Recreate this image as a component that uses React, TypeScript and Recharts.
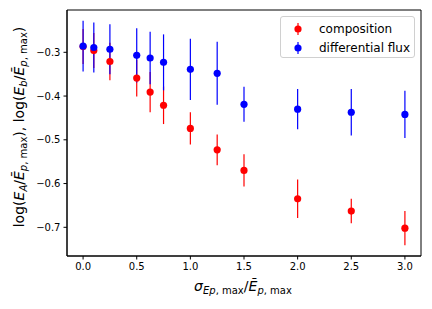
import React from "react";
import {
  ScatterChart,
  Scatter,
  XAxis,
  YAxis,
  ErrorBar,
  ReferenceArea,
} from "recharts";

const xValues = [0, 0.1, 0.25, 0.5, 0.625, 0.75, 1.0, 1.25, 1.5, 2.0, 2.5, 3.0];
const composition = [-0.287, -0.296, -0.321, -0.359, -0.391, -0.421, -0.474, -0.523, -0.57, -0.635, -0.663, -0.702];
const compositionErr = [0.04, 0.04, 0.043, 0.042, 0.046, 0.043, 0.037, 0.035, 0.037, 0.044, 0.028, 0.039];
const flux = [-0.286, -0.289, -0.293, -0.307, -0.313, -0.323, -0.339, -0.348, -0.419, -0.43, -0.437, -0.442];
const fluxErr = [0.058, 0.057, 0.057, 0.062, 0.06, 0.064, 0.07, 0.072, 0.04, 0.046, 0.053, 0.054];
const xTicks = [0, 0.5, 1.0, 1.5, 2.0, 2.5, 3.0];
const yTicks = [-0.7, -0.6, -0.5, -0.4, -0.3];
const seriesNames = ["composition", "differential flux"];

const X_DOMAIN: [number, number] = [-0.15, 3.15];
const Y_DOMAIN: [number, number] = [-0.7656, -0.2033];

const compData = xValues.map((x, i) => ({ x, y: composition[i], err: compositionErr[i] }));
const fluxData = xValues.map((x, i) => ({ x, y: flux[i], err: fluxErr[i] }));

const FONT = "'DejaVu Sans', sans-serif";

const dot = (color: string) => (props: any) => (
  <circle cx={props.cx} cy={props.cy} r={3.6} fill={color} />
);

const fmtY = (v: number) => (v < 0 ? "\u2212" : "") + Math.abs(v).toFixed(1);
const fmtX = (v: number) => v.toFixed(1);

export default function App() {
  return (
    <div style={{ position: "absolute", left: 0, top: 0, width: 432, height: 309, background: "#fff" }}>
      <ScatterChart
        width={432}
        height={309}
        margin={{ top: 10, right: 11, bottom: 23, left: 7 }}
      >
        <XAxis
          type="number"
          dataKey="x"
          domain={X_DOMAIN}
          ticks={xTicks}
          tickFormatter={fmtX}
          allowDataOverflow
          height={30}
          stroke="#000"
          tickSize={3.5}
          tickMargin={3}
          tick={{ fontSize: 10, fill: "#000", fontFamily: FONT }}
        />
        <YAxis
          type="number"
          dataKey="y"
          domain={Y_DOMAIN}
          ticks={yTicks}
          tickFormatter={fmtY}
          allowDataOverflow
          width={60}
          stroke="#000"
          tickSize={3.5}
          tickMargin={3}
          tick={{ fontSize: 10, fill: "#000", fontFamily: FONT }}
        />
        <ReferenceArea
          x1={X_DOMAIN[0]}
          x2={X_DOMAIN[1]}
          y1={Y_DOMAIN[0]}
          y2={Y_DOMAIN[1]}
          fill="none"
          stroke="#000"
          strokeWidth={1}
          fillOpacity={0}
        />
        <Scatter
          name={seriesNames[0]}
          data={compData}
          fill="#ff0000"
          shape={dot("#ff0000")}
          isAnimationActive={false}
        >
          <ErrorBar dataKey="err" direction="y" width={0} stroke="#ff0000" strokeWidth={1.2} />
        </Scatter>
        <Scatter
          name={seriesNames[1]}
          data={fluxData}
          fill="#0000ff"
          shape={dot("#0000ff")}
          isAnimationActive={false}
        >
          <ErrorBar dataKey="err" direction="y" width={0} stroke="#0000ff" strokeWidth={1.2} />
        </Scatter>
      </ScatterChart>

      <svg
        width={432}
        height={309}
        style={{ position: "absolute", left: 0, top: 0, pointerEvents: "none" }}
      >
        <text
          transform="translate(24,127) rotate(-90)"
          textAnchor="middle"
          fontFamily={FONT}
          fontSize={14}
          fill="#000"
        >
          <tspan>log(</tspan>
          <tspan fontStyle="italic">E</tspan>
          <tspan fontStyle="italic" fontSize={10} dy={3}>A</tspan>
          <tspan dy={-3}>/</tspan>
          <tspan fontStyle="italic">{"E\u0304"}</tspan>
          <tspan fontSize={10} dy={3}><tspan fontStyle="italic">p</tspan>, max</tspan>
          <tspan dy={-3}>),  log(</tspan>
          <tspan fontStyle="italic">E</tspan>
          <tspan fontStyle="italic" fontSize={10} dy={3}>b</tspan>
          <tspan dy={-3}>/</tspan>
          <tspan fontStyle="italic">{"E\u0304"}</tspan>
          <tspan fontSize={10} dy={3}><tspan fontStyle="italic">p</tspan>, max</tspan>
          <tspan dy={-3}>)</tspan>
        </text>
        <text
          x={243}
          y={291}
          textAnchor="middle"
          fontFamily={FONT}
          fontSize={14}
          fill="#000"
        >
          <tspan fontStyle="italic">σ</tspan>
          <tspan fontSize={10} dy={3}><tspan fontStyle="italic">Ep</tspan>, max</tspan>
          <tspan dy={-3}>/</tspan>
          <tspan fontStyle="italic">{"E\u0304"}</tspan>
          <tspan fontSize={10} dy={3}><tspan fontStyle="italic">p</tspan>, max</tspan>
        </text>
      </svg>

      <div
        style={{
          position: "absolute",
          left: 280,
          top: 16,
          width: 135,
          height: 42,
          boxSizing: "border-box",
          border: "1px solid #d0d0d0",
          borderRadius: 3,
          background: "rgba(255,255,255,0.8)",
          fontFamily: FONT,
          fontSize: 12,
          color: "#000",
        }}
      >
        {seriesNames.map((name, i) => (
          <div
            key={name}
            style={{ position: "absolute", left: 0, top: i === 0 ? 3 : 22, height: 18, width: 133 }}
          >
            <svg width={30} height={18} style={{ position: "absolute", left: 6, top: 0 }}>
              <line x1={11} x2={11} y1={3} y2={15} stroke={i === 0 ? "#ff0000" : "#0000ff"} strokeWidth={1.2} />
              <circle cx={11} cy={9} r={3.6} fill={i === 0 ? "#ff0000" : "#0000ff"} />
            </svg>
            <span style={{ position: "absolute", left: 38, top: 1, lineHeight: "16px", whiteSpace: "nowrap" }}>
              {name}
            </span>
          </div>
        ))}
      </div>
    </div>
  );
}
